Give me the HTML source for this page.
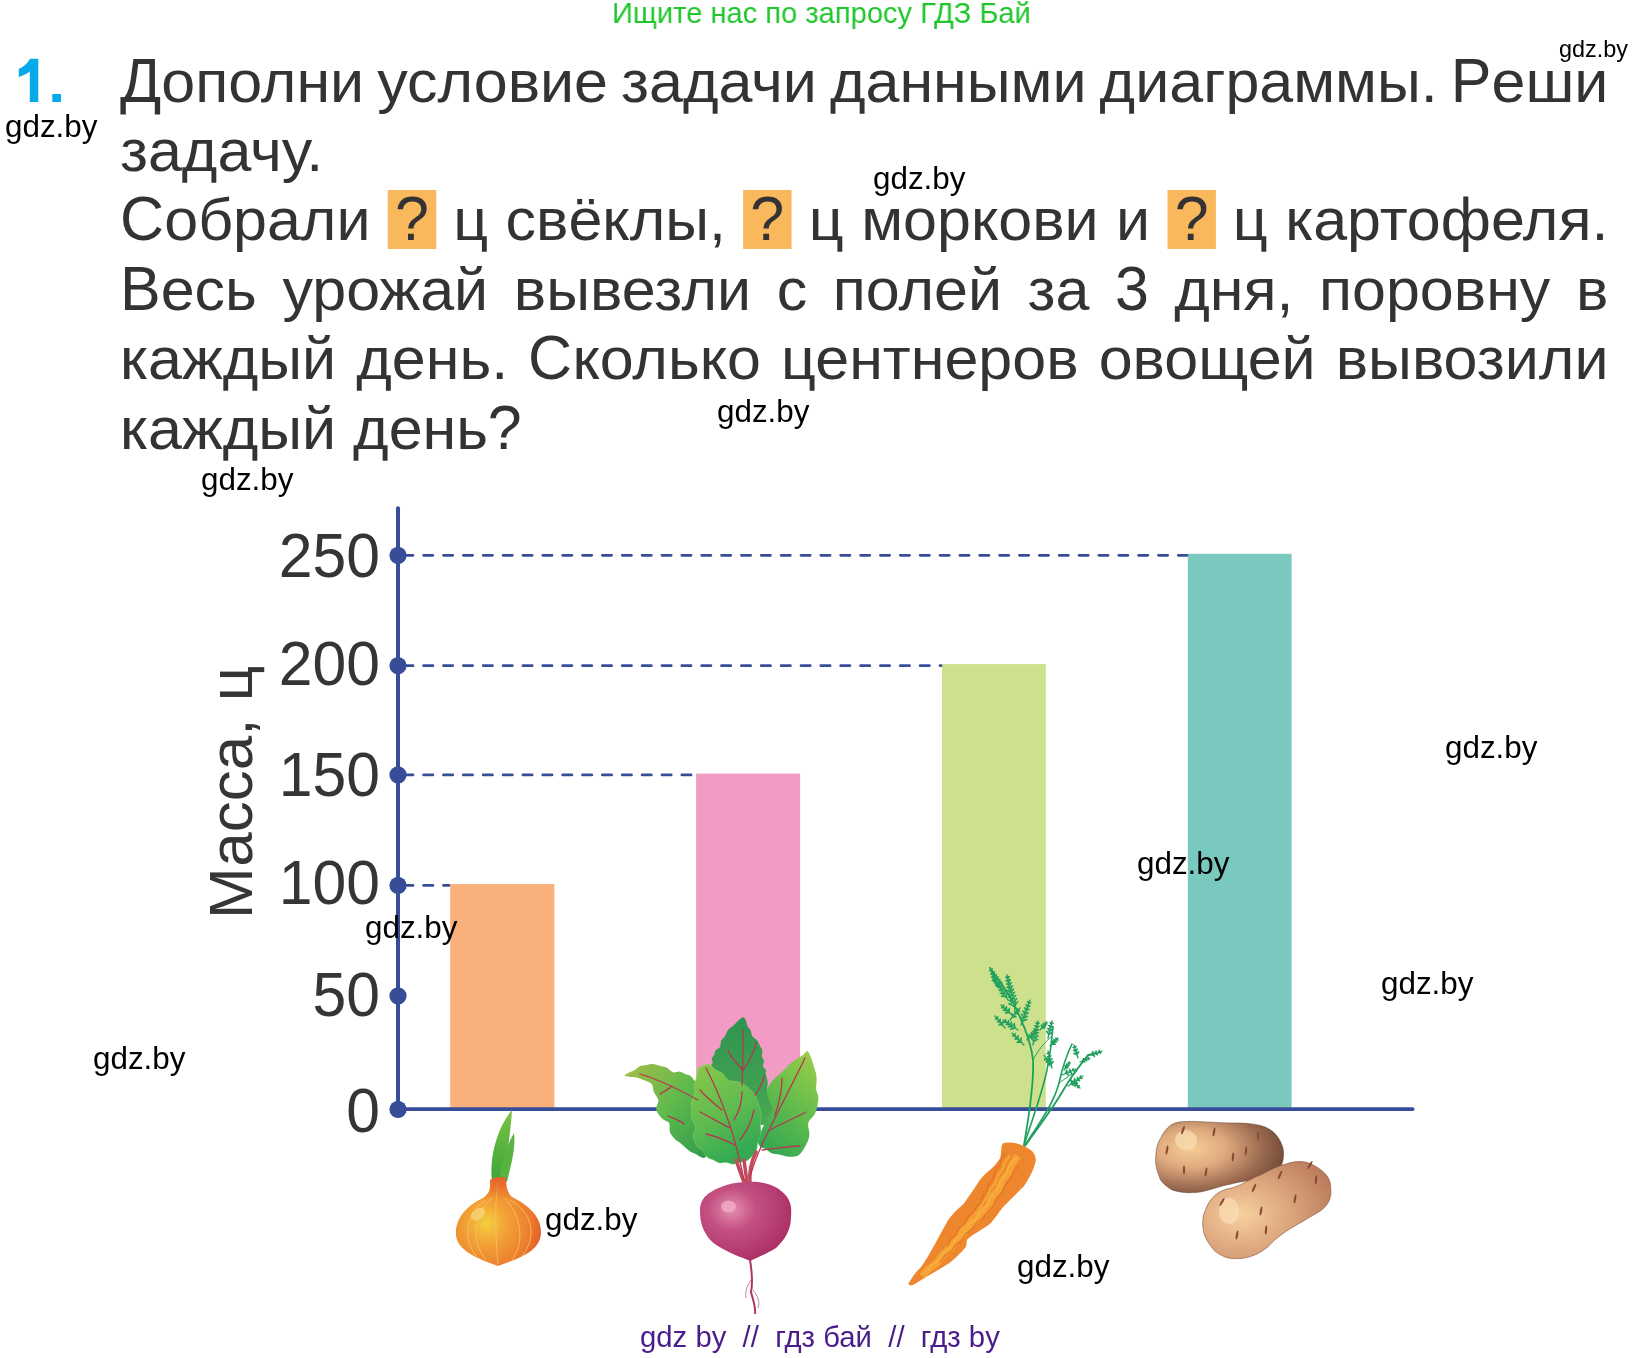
<!DOCTYPE html>
<html><head><meta charset="utf-8">
<style>
html,body{margin:0;padding:0;background:#fff;}
body{width:1646px;height:1358px;position:relative;overflow:hidden;font-family:"Liberation Sans",sans-serif;}
.a{position:absolute;white-space:nowrap;will-change:transform;}
.ln{position:absolute;left:119.5px;width:1445.1px;font-size:59.2px;line-height:69px;color:#343234;white-space:nowrap;transform-origin:0 0;transform:scaleX(1.03);align-items:flex-start;}
.C{display:inline-block;font-size:1.0557em;line-height:0;transform-origin:0 100%;transform:scaleX(0.947);margin-right:-2.2px;}
.fx{display:flex;justify-content:space-between;}
.q{display:inline-block;position:relative;top:4.1px;background:#f9b85c;width:46.6px;height:59px;line-height:59px;text-align:center;vertical-align:top;}
.wm{position:absolute;will-change:transform;font-size:31.4px;line-height:31px;color:#000;white-space:nowrap;}
.yl{position:absolute;left:180px;width:200px;font-size:63.5px;line-height:63.5px;color:#353535;text-align:right;transform-origin:100% 0;transform:scaleX(0.955);}
</style></head>
<body>
<div class="a" style="left:612px;top:-1.8px;font-size:30px;line-height:30px;color:#1fc62c;transform-origin:0 0;transform:scaleX(0.97);">Ищите нас по запросу ГДЗ Бай</div>
<svg width="70" height="110" style="position:absolute;left:0;top:0;"><path d="M18.8,69.1 C24,66.5 28,63 30,58.8 L38.3,58.8 L38.3,101.9 L29.8,101.9 L29.8,71.4 C26.5,74 22.5,75.8 18.8,76.9 Z M52.3,94 L61,94 L61,101.9 L52.3,101.9 Z" fill="#06a9ea"/></svg>

<div class="ln fx" style="top:46.75px;"><span><span class="C">Д</span>ополни</span><span>условие</span><span>задачи</span><span>данными</span><span>диаграммы.</span><span><span class="C">Р</span>еши</span></div>
<div class="ln" style="top:116.10px;"><span>задачу.</span></div>
<div class="ln fx" style="top:185.45px;"><span><span class="C">С</span>обрали</span><span class="q"><span class="C">?</span></span><span>ц</span><span>свёклы,</span><span class="q"><span class="C">?</span></span><span>ц</span><span>моркови</span><span>и</span><span class="q"><span class="C">?</span></span><span>ц</span><span>картофеля.</span></div>
<div class="ln fx" style="top:254.80px;"><span><span class="C">В</span>есь</span><span>урожай</span><span>вывезли</span><span>с</span><span>полей</span><span>за</span><span><span class="C">3</span></span><span>дня,</span><span>поровну</span><span>в</span></div>
<div class="ln fx" style="top:324.15px;"><span>каждый</span><span>день.</span><span><span class="C">С</span>колько</span><span>центнеров</span><span>овощей</span><span>вывозили</span></div>
<div class="ln" style="top:393.50px;"><span>каждый</span> <span>день<span class="C">?</span></span></div>

<svg width="1646" height="1358" style="position:absolute;left:0;top:0;">
  <rect x="450.2" y="884.1" width="104.2" height="225" fill="#f9b07b"/>
  <rect x="696.1" y="773.6" width="104" height="335" fill="#f29bc4"/>
  <rect x="941.9" y="664.1" width="103.9" height="445" fill="#cde18d"/>
  <rect x="1187.8" y="553.8" width="103.8" height="555" fill="#79c9be"/>
  <g stroke="#384d98" stroke-width="2.8" stroke-dasharray="9.2 10.66" stroke-linecap="round">
    <line x1="403.8" y1="555.3" x2="1187" y2="555.3"/>
    <line x1="403.8" y1="665.7" x2="941" y2="665.7"/>
    <line x1="403.8" y1="774.9" x2="695" y2="774.9"/>
    <line x1="403.8" y1="885.4" x2="449" y2="885.4"/>
  </g>
  <line x1="398" y1="508.2" x2="398" y2="1109" stroke="#384d98" stroke-width="4" stroke-linecap="round"/>
  <line x1="398" y1="1109.1" x2="1412.7" y2="1109.1" stroke="#384d98" stroke-width="3.8" stroke-linecap="round"/>
  <g fill="#384d98">
    <circle cx="398" cy="555.3" r="8.6"/>
    <circle cx="398" cy="665.7" r="8.6"/>
    <circle cx="398" cy="774.9" r="8.6"/>
    <circle cx="398" cy="885.4" r="8.6"/>
    <circle cx="398" cy="995.9" r="8.6"/>
    <circle cx="398" cy="1109.4" r="8.6"/>
  </g>
<defs>
<radialGradient id="onionG" cx="0.36" cy="0.52" r="0.72">
 <stop offset="0" stop-color="#f5d040"/><stop offset="0.3" stop-color="#f2a536"/><stop offset="0.72" stop-color="#ec7d2d"/><stop offset="1" stop-color="#de4f27"/>
</radialGradient>
<linearGradient id="onionNeck" x1="0" y1="0" x2="0" y2="1">
 <stop offset="0" stop-color="#e5602a" stop-opacity="0.9"/><stop offset="1" stop-color="#e5602a" stop-opacity="0"/>
</linearGradient>
<linearGradient id="onionLeaf" x1="0" y1="0" x2="0" y2="1">
 <stop offset="0" stop-color="#7cc243"/><stop offset="1" stop-color="#3ba53a"/>
</linearGradient>
<radialGradient id="beetG" cx="0.35" cy="0.35" r="0.75">
 <stop offset="0" stop-color="#e58fb0"/><stop offset="0.35" stop-color="#c45083"/><stop offset="1" stop-color="#a82a63"/>
</radialGradient>
<linearGradient id="leafL" x1="0" y1="0" x2="1" y2="1">
 <stop offset="0" stop-color="#a6bd4a"/><stop offset="0.5" stop-color="#5fba4c"/><stop offset="1" stop-color="#2f9a4e"/>
</linearGradient>
<linearGradient id="leafB" x1="0" y1="0" x2="0" y2="1">
 <stop offset="0" stop-color="#2e9450"/><stop offset="1" stop-color="#4aa852"/>
</linearGradient>
<linearGradient id="leafF" x1="0" y1="0" x2="0.4" y2="1">
 <stop offset="0" stop-color="#8cc84a"/><stop offset="0.6" stop-color="#5dbb50"/><stop offset="1" stop-color="#34aa52"/>
</linearGradient>
<linearGradient id="leafR" x1="0.8" y1="0" x2="0.3" y2="1">
 <stop offset="0" stop-color="#98cc48"/><stop offset="0.5" stop-color="#62bc4c"/><stop offset="1" stop-color="#34a852"/>
</linearGradient>
<linearGradient id="carrotG" x1="0" y1="0" x2="1" y2="0.2">
 <stop offset="0" stop-color="#ee8a2c"/><stop offset="0.5" stop-color="#f5a431"/><stop offset="1" stop-color="#e7772a"/>
</linearGradient>
<radialGradient id="potB" cx="0.28" cy="0.38" r="0.9">
 <stop offset="0" stop-color="#f5cd98"/><stop offset="0.3" stop-color="#deaa7e"/><stop offset="0.62" stop-color="#9a6a50"/><stop offset="0.85" stop-color="#6e4634"/><stop offset="1" stop-color="#5e3a2c"/>
</radialGradient>
<radialGradient id="potF" cx="0.3" cy="0.55" r="0.8">
 <stop offset="0" stop-color="#f7d1a0"/><stop offset="0.4" stop-color="#e0ac82"/><stop offset="1" stop-color="#b8785a"/>
</radialGradient>
</defs>
<path d="M492,1181 C489,1158 497,1128 512,1110 C511,1132 505,1160 506,1181 Z" fill="url(#onionLeaf)"/>
<path d="M499,1181 C502,1162 507,1145 514,1133 C516,1150 510,1168 507,1182 Z" fill="#58b33f"/>
<path d="M490,1180 C491,1189 489,1194 483,1198 C466,1206 455,1219 456,1235 C457,1250 476,1258 498,1266 C520,1258 541,1251 541,1232 C541,1216 528,1205 512,1197 C507,1192 506,1186 506,1178 C501,1176 495,1177 490,1180 Z" fill="url(#onionG)"/>
<path d="M498,1182 C494,1210 496,1240 498,1264" fill="none" stroke="#f9c26a" stroke-width="1" opacity="0.8"/>
<path d="M492,1198 C474,1215 470,1240 486,1260" fill="none" stroke="#f9c26a" stroke-width="1" opacity="0.8"/>
<path d="M505,1198 C520,1215 526,1240 512,1260" fill="none" stroke="#f9c26a" stroke-width="1" opacity="0.8"/>
<path d="M486,1200 C466,1212 462,1238 476,1256" fill="none" stroke="#f9c26a" stroke-width="1" opacity="0.8"/>
<path d="M510,1200 C532,1212 538,1236 522,1256" fill="none" stroke="#f9c26a" stroke-width="1" opacity="0.8"/>
<path d="M490,1180 C491,1189 489,1194 483,1198 C490,1200 506,1200 512,1197 C507,1192 506,1186 506,1178 C501,1176 495,1177 490,1180 Z" fill="url(#onionNeck)"/>
<ellipse cx="478" cy="1214" rx="8" ry="5" fill="#fae089" opacity="0.6" transform="rotate(-35 478 1214)"/>
<path d="M624.6,1075.6 C624.1,1074.3 632.5,1071.5 635.0,1070.0 C637.5,1068.5 637.8,1067.1 639.7,1066.3 C641.6,1065.5 644.4,1065.4 646.5,1065.0 C648.6,1064.6 650.3,1063.9 652.6,1064.1 C654.8,1064.2 657.7,1065.4 660.0,1066.0 C662.3,1066.6 664.2,1066.5 666.4,1067.6 C668.5,1068.6 670.8,1071.6 673.0,1072.3 C675.2,1073.0 677.5,1071.4 679.5,1071.6 C681.5,1071.9 683.1,1073.3 685.0,1074.0 C686.9,1074.7 689.1,1074.9 690.7,1076.0 C692.2,1077.0 692.9,1078.9 694.2,1080.3 C695.5,1081.7 697.6,1082.8 698.5,1084.4 C699.5,1086.0 699.1,1084.1 700.0,1090.0 C700.9,1095.9 703.0,1109.0 704.0,1120.0 C705.0,1131.0 707.8,1150.3 706.2,1155.8 C704.6,1161.3 697.3,1154.3 694.2,1153.2 C691.1,1152.1 689.9,1151.2 687.5,1149.4 C685.1,1147.6 681.7,1144.2 679.7,1142.6 C677.7,1141.0 676.8,1141.1 675.3,1139.5 C673.7,1138.0 671.3,1135.0 670.4,1133.3 C669.5,1131.6 670.0,1131.4 669.7,1129.6 C669.5,1127.8 670.2,1124.5 669.0,1122.7 C667.8,1120.9 664.5,1120.7 662.5,1118.9 C660.5,1117.1 658.1,1114.1 657.1,1112.1 C656.1,1110.1 656.1,1108.9 656.4,1106.9 C656.6,1104.9 658.8,1102.8 658.4,1100.2 C658.0,1097.6 654.8,1094.1 653.7,1091.4 C652.6,1088.8 653.5,1086.1 651.8,1084.2 C650.1,1082.3 645.9,1081.2 643.6,1080.1 C641.3,1079.1 641.2,1078.8 638.0,1078.0 C634.8,1077.2 625.1,1076.9 624.6,1075.6 Z" fill="url(#leafL)"/>
<path d="M743.3,1017.3 C745.8,1017.5 746.8,1024.9 748.0,1027.0 C749.2,1029.1 749.8,1028.6 750.5,1030.2 C751.3,1031.7 751.5,1034.8 752.6,1036.5 C753.7,1038.2 755.9,1038.6 757.2,1040.3 C758.5,1042.1 759.6,1045.4 760.5,1047.1 C761.4,1048.8 762.2,1049.1 762.4,1050.7 C762.6,1052.2 761.6,1054.7 761.9,1056.4 C762.2,1058.1 763.8,1059.2 764.0,1060.8 C764.2,1062.4 762.7,1064.4 763.0,1066.0 C763.3,1067.6 765.5,1068.9 766.0,1070.1 C766.4,1071.4 765.5,1071.5 765.8,1073.6 C766.1,1075.7 767.5,1079.9 767.8,1082.5 C768.0,1085.2 766.6,1087.0 767.2,1089.5 C767.8,1092.0 770.4,1095.2 771.5,1097.4 C772.6,1099.6 773.4,1100.0 773.8,1102.8 C774.2,1105.6 774.2,1110.8 774.0,1114.1 C773.7,1117.4 774.8,1120.9 772.5,1122.7 C770.2,1124.5 766.2,1124.6 760.0,1125.0 C753.8,1125.4 742.8,1134.2 735.0,1125.0 C727.2,1115.8 716.7,1080.3 713.0,1070.0 C709.3,1059.7 713.0,1064.9 712.8,1063.0 C712.6,1061.1 711.7,1060.0 711.9,1058.7 C712.1,1057.3 713.5,1056.4 714.1,1055.0 C714.7,1053.6 714.6,1051.6 715.6,1050.3 C716.6,1048.9 719.1,1048.6 720.0,1047.0 C720.9,1045.4 720.5,1042.3 721.2,1040.6 C722.0,1038.8 723.5,1038.3 724.7,1036.5 C725.9,1034.7 726.8,1031.6 728.2,1029.8 C729.5,1028.1 730.5,1028.1 733.0,1026.0 C735.5,1023.9 740.8,1017.1 743.3,1017.3 Z" fill="url(#leafB)"/>
<path d="M808.3,1051.8 C810.3,1054.2 813.5,1065.3 814.9,1069.7 C816.3,1074.1 816.4,1075.1 816.6,1078.4 C816.8,1081.7 815.9,1086.4 816.2,1089.5 C816.5,1092.6 818.1,1094.2 818.3,1096.9 C818.5,1099.5 818.1,1102.6 817.5,1105.5 C816.9,1108.4 816.0,1111.6 814.5,1114.5 C812.9,1117.3 809.2,1119.7 808.3,1122.7 C807.4,1125.7 809.3,1129.7 809.3,1132.6 C809.3,1135.4 809.3,1137.1 808.3,1139.9 C807.3,1142.7 805.2,1146.7 803.4,1149.4 C801.6,1152.0 800.1,1154.6 797.6,1155.8 C795.1,1157.0 791.3,1157.0 788.3,1156.7 C785.2,1156.5 781.8,1155.1 779.1,1154.5 C776.4,1153.9 774.0,1154.2 771.8,1153.3 C769.6,1152.4 767.6,1150.2 765.8,1149.2 C764.0,1148.2 762.2,1148.3 760.9,1147.2 C759.5,1146.1 758.2,1144.5 757.9,1142.6 C757.6,1140.7 758.4,1138.3 759.3,1135.7 C760.2,1133.0 762.0,1129.5 763.2,1126.7 C764.4,1123.9 764.8,1121.5 766.4,1118.6 C767.9,1115.8 772.2,1112.7 772.5,1109.4 C772.8,1106.1 769.3,1102.1 768.4,1098.8 C767.5,1095.5 766.3,1092.7 767.2,1089.5 C768.1,1086.3 771.2,1082.4 773.6,1079.5 C776.1,1076.7 778.6,1075.2 781.7,1072.3 C784.8,1069.4 788.9,1064.9 792.4,1062.1 C796.0,1059.2 800.4,1056.7 803.0,1055.0 C805.6,1053.3 806.3,1049.3 808.3,1051.8 Z" fill="url(#leafR)"/>
<path d="M698.2,1068.3 C699.8,1066.3 704.1,1064.9 706.2,1064.4 C708.3,1063.9 709.1,1064.5 710.7,1065.4 C712.4,1066.4 714.1,1068.7 716.0,1070.0 C717.9,1071.3 720.3,1071.6 722.4,1073.4 C724.5,1075.1 726.0,1078.9 728.7,1080.3 C731.4,1081.7 735.7,1080.9 738.8,1082.0 C741.9,1083.1 744.8,1084.9 747.3,1086.9 C749.8,1088.9 752.3,1091.2 754.1,1093.9 C755.9,1096.5 756.8,1099.6 757.9,1102.8 C759.0,1106.0 760.6,1109.8 761.0,1113.3 C761.4,1116.8 760.5,1120.5 760.5,1124.0 C760.5,1127.5 761.3,1131.0 760.8,1134.1 C760.4,1137.2 758.6,1139.9 757.9,1142.6 C757.2,1145.3 757.4,1148.3 756.5,1150.5 C755.6,1152.7 754.2,1154.1 752.6,1155.8 C751.0,1157.5 749.1,1159.6 746.8,1160.7 C744.6,1161.8 741.6,1161.9 739.3,1162.5 C737.0,1163.1 735.3,1164.2 733.1,1164.2 C730.9,1164.2 728.3,1162.7 726.0,1162.5 C723.7,1162.3 721.5,1163.4 719.3,1162.9 C717.1,1162.5 714.9,1160.8 712.8,1159.8 C710.7,1158.8 708.7,1158.4 706.9,1156.9 C705.2,1155.3 703.8,1152.2 702.2,1150.5 C700.6,1148.8 698.4,1148.4 697.1,1146.6 C695.8,1144.9 694.8,1142.0 694.2,1139.9 C693.6,1137.8 693.2,1136.5 693.4,1134.3 C693.6,1132.1 695.9,1129.3 695.6,1126.7 C695.3,1124.1 692.5,1121.6 691.8,1119.0 C691.1,1116.3 691.7,1113.6 691.6,1110.8 C691.5,1108.0 690.8,1104.7 691.3,1102.1 C691.7,1099.4 693.7,1097.8 694.2,1094.8 C694.7,1091.8 693.9,1087.3 694.4,1084.2 C694.8,1081.1 696.3,1078.9 696.9,1076.3 C697.5,1073.7 696.7,1070.3 698.2,1068.3 Z" fill="url(#leafF)" stroke="#a8d870" stroke-width="0.6" stroke-opacity="0.6"/>
<g fill="none" stroke="#c24a5e" stroke-linecap="round">
<path d="M736,1160 C739,1168 741,1175 744,1182" stroke-width="3.5"/>
<path d="M744,1160 C745,1168 746,1175 747,1182" stroke-width="3.5"/>
<path d="M756,1152 C751,1162 749,1172 750,1182" stroke-width="3.5"/>
</g>
<g fill="none" stroke="#b8354e" stroke-width="1.3" stroke-linecap="round">
<path d="M744,1180 C738,1150 728,1110 706,1068"/>
<path d="M722,1110 C712,1102 705,1096 700,1090"/>
<path d="M730,1128 C718,1122 708,1116 700,1112"/>
<path d="M735,1145 C725,1140 715,1136 706,1134"/>
<path d="M734,1120 C740,1110 742,1100 742,1092"/>
<path d="M740,1140 C748,1130 752,1120 754,1110"/>
<path d="M750,1178 C756,1150 780,1110 805,1058"/>
<path d="M770,1130 C785,1122 795,1118 806,1112"/>
<path d="M762,1150 C780,1148 792,1146 800,1146"/>
<path d="M775,1115 C780,1100 782,1090 782,1078"/>
<path d="M698,1100 C680,1090 660,1080 640,1074"/>
<path d="M672,1086 C668,1090 663,1092 660,1094"/>
<path d="M684,1124 C680,1120 672,1118 668,1116"/>
<path d="M742,1085 C743,1065 743,1045 743,1030"/>
<path d="M743,1070 C735,1062 730,1055 728,1050"/>
<path d="M743,1070 C750,1060 755,1050 756,1042"/>
<path d="M755,1095 C760,1088 763,1082 764,1076"/>
</g>
<path d="M746.7,1182 C762,1181 774,1185 780,1190 C788,1196 791.5,1203 791.2,1211 C791,1219 791,1224 789,1229 C786,1238 780,1244 776,1248 C766,1254 757,1258 750,1261 C744,1258 734,1255 727,1251 C716,1246 709,1240 706,1234 C701,1226 700,1218 700,1210 C700,1202 704,1196 711,1192 C720,1186 734,1182 746.7,1182 Z" fill="url(#beetG)"/>
<ellipse cx="728.5" cy="1206.5" rx="7.5" ry="6" fill="#f2a9c6" opacity="0.85"/>
<path d="M750,1260 C752,1272 753,1282 751,1292 C753,1300 756,1307 755,1314" fill="none" stroke="#b0366a" stroke-width="2"/>
<path d="M751,1280 C747,1286 745,1292 746,1298 M753,1290 C758,1296 760,1302 758,1308" fill="none" stroke="#c06088" stroke-width="0.8"/>
<g fill="none" stroke="#1fa15e" stroke-linecap="round">
<path d="M1024,1145 C1030,1110 1034,1080 1033,1060 C1031,1040 1022,1020 1012,1000 C1005,988 998,978 990,968" stroke-width="1.8"/>
<path d="M1024,1145 C1034,1115 1043,1090 1047,1070 C1050,1055 1052,1040 1053,1027" stroke-width="1.6"/>
<path d="M1025,1145 C1042,1120 1055,1100 1059,1083 C1063,1065 1068,1052 1072,1044" stroke-width="1.6"/>
<path d="M1025,1146 C1040,1125 1055,1105 1064,1089 C1072,1075 1082,1063 1088,1055 C1093,1054 1097,1053 1101,1052" stroke-width="1.8"/>
<path d="M1033,1060 C1038,1050 1045,1042 1052,1036" stroke-width="1"/>
<path d="M1059,1083 C1066,1078 1072,1074 1077,1071" stroke-width="1"/>
</g>
<path d="M1002.0,990.0 L990.0,968.0 M1000.3,986.9 L1002.0,982.2 M1001.2,984.5 L1000.3,983.0 M1000.3,986.9 L995.4,985.8 M997.9,986.3 L997.0,984.8 M998.6,983.7 L1000.1,979.6 M999.3,981.6 L998.6,980.3 M998.6,983.7 L994.2,982.8 M996.4,983.2 L995.7,981.9 M996.9,980.6 L998.2,976.9 M997.5,978.7 L996.9,977.5 M996.9,980.6 L993.0,979.7 M994.9,980.2 L994.3,978.9 M995.1,977.4 L996.3,974.3 M995.7,975.8 L995.2,974.8 M995.1,977.4 L991.8,976.7 M993.5,977.1 L992.9,976.0 M993.4,974.3 L994.4,971.6 M993.9,972.9 L993.4,972.1 M993.4,974.3 L990.6,973.7 M992.0,974.0 L991.5,973.1 M991.7,971.1 L992.5,968.9 M992.1,970.0 L991.7,969.3 M991.7,971.1 L989.4,970.6 M990.6,970.9 L990.2,970.2" fill="none" stroke="#21a05e" stroke-width="1.3" stroke-linecap="round"/>
<path d="M1008.0,1000.0 L997.0,982.0 M1006.2,997.0 L1007.6,992.4 M1006.9,994.7 L1006.0,993.2 M1006.2,997.0 L1001.4,996.2 M1003.8,996.6 L1002.9,995.1 M1004.3,994.0 L1005.6,989.9 M1005.0,992.0 L1004.2,990.7 M1004.3,994.0 L1000.1,993.3 M1002.2,993.6 L1001.5,992.4 M1002.5,991.0 L1003.6,987.5 M1003.1,989.3 L1002.4,988.2 M1002.5,991.0 L998.9,990.4 M1000.7,990.7 L1000.0,989.6 M1000.7,988.0 L1001.6,985.1 M1001.1,986.6 L1000.6,985.6 M1000.7,988.0 L997.7,987.5 M999.2,987.7 L998.6,986.8 M998.8,985.0 L999.6,982.7 M999.2,983.8 L998.8,983.1 M998.8,985.0 L996.4,984.6 M997.6,984.8 L997.2,984.1" fill="none" stroke="#21a05e" stroke-width="1.3" stroke-linecap="round"/>
<path d="M1015.0,1010.0 L1007.0,975.0 M1014.2,1006.5 L1017.8,1001.6 M1016.0,1004.0 L1015.5,1001.9 M1014.2,1006.5 L1008.8,1003.6 M1011.5,1005.1 L1011.0,1003.0 M1013.4,1003.0 L1016.8,998.4 M1015.1,1000.7 L1014.6,998.7 M1013.4,1003.0 L1008.4,1000.3 M1010.9,1001.7 L1010.4,999.7 M1012.6,999.5 L1015.7,995.3 M1014.2,997.4 L1013.7,995.6 M1012.6,999.5 L1008.0,997.0 M1010.3,998.3 L1009.9,996.5 M1011.8,996.0 L1014.6,992.1 M1013.2,994.1 L1012.8,992.4 M1011.8,996.0 L1007.6,993.7 M1009.7,994.9 L1009.3,993.2 M1011.0,992.5 L1013.6,989.0 M1012.3,990.7 L1011.9,989.2 M1011.0,992.5 L1007.1,990.4 M1009.1,991.5 L1008.7,990.0 M1010.2,989.0 L1012.5,985.8 M1011.4,987.4 L1011.1,986.1 M1010.2,989.0 L1006.7,987.1 M1008.5,988.1 L1008.2,986.7 M1009.4,985.5 L1011.5,982.7 M1010.4,984.1 L1010.2,982.9 M1009.4,985.5 L1006.3,983.9 M1007.9,984.7 L1007.6,983.5 M1008.6,982.0 L1010.4,979.5 M1009.5,980.8 L1009.3,979.7 M1008.6,982.0 L1005.9,980.6 M1007.2,981.3 L1007.0,980.2 M1007.8,978.5 L1009.4,976.4 M1008.6,977.4 L1008.4,976.5 M1007.8,978.5 L1005.5,977.3 M1006.6,977.9 L1006.4,977.0" fill="none" stroke="#21a05e" stroke-width="1.3" stroke-linecap="round"/>
<path d="M1021.0,1025.0 L1030.0,1000.0 M1022.3,1021.4 L1026.9,1019.6 M1024.6,1020.5 L1025.2,1018.9 M1022.3,1021.4 L1019.9,1017.1 M1021.1,1019.3 L1021.7,1017.6 M1023.6,1017.9 L1027.7,1016.3 M1025.6,1017.1 L1026.2,1015.6 M1023.6,1017.9 L1021.4,1014.0 M1022.5,1015.9 L1023.0,1014.5 M1024.9,1014.3 L1028.5,1012.9 M1026.7,1013.6 L1027.1,1012.3 M1024.9,1014.3 L1022.9,1010.9 M1023.9,1012.6 L1024.4,1011.3 M1026.1,1010.7 L1029.3,1009.5 M1027.7,1010.1 L1028.1,1009.0 M1026.1,1010.7 L1024.5,1007.8 M1025.3,1009.2 L1025.7,1008.1 M1027.4,1007.1 L1030.1,1006.1 M1028.8,1006.6 L1029.1,1005.7 M1027.4,1007.1 L1026.0,1004.6 M1026.7,1005.9 L1027.1,1004.9 M1028.7,1003.6 L1030.9,1002.7 M1029.8,1003.1 L1030.1,1002.4 M1028.7,1003.6 L1027.6,1001.5 M1028.1,1002.5 L1028.4,1001.8" fill="none" stroke="#21a05e" stroke-width="1.3" stroke-linecap="round"/>
<path d="M1012.0,1015.0 L1001.0,1005.0 M1009.2,1012.5 L1009.3,1008.4 M1009.3,1010.4 L1008.2,1009.5 M1009.2,1012.5 L1005.2,1013.0 M1007.2,1012.7 L1006.1,1011.8 M1006.5,1010.0 L1006.6,1006.7 M1006.5,1008.4 L1005.7,1007.6 M1006.5,1010.0 L1003.2,1010.4 M1004.9,1010.2 L1004.0,1009.4 M1003.8,1007.5 L1003.8,1005.0 M1003.8,1006.3 L1003.1,1005.7 M1003.8,1007.5 L1001.3,1007.8 M1002.5,1007.6 L1001.9,1007.1" fill="none" stroke="#21a05e" stroke-width="1.3" stroke-linecap="round"/>
<path d="M1018.0,1030.0 L1003.0,1020.0 M1015.0,1028.0 L1014.4,1023.3 M1014.7,1025.6 L1013.3,1024.7 M1015.0,1028.0 L1010.4,1029.3 M1012.7,1028.6 L1011.3,1027.7 M1012.0,1026.0 L1011.5,1022.0 M1011.7,1024.0 L1010.6,1023.2 M1012.0,1026.0 L1008.1,1027.1 M1010.1,1026.5 L1008.9,1025.7 M1009.0,1024.0 L1008.6,1020.7 M1008.8,1022.4 L1007.8,1021.7 M1009.0,1024.0 L1005.8,1024.9 M1007.4,1024.4 L1006.5,1023.8 M1006.0,1022.0 L1005.7,1019.5 M1005.8,1020.7 L1005.1,1020.2 M1006.0,1022.0 L1003.5,1022.7 M1004.8,1022.3 L1004.0,1021.8" fill="none" stroke="#21a05e" stroke-width="1.3" stroke-linecap="round"/>
<path d="M1024.0,1045.0 L1012.0,1033.0 M1021.0,1042.0 L1021.3,1037.9 M1021.1,1040.0 L1020.1,1038.9 M1021.0,1042.0 L1016.9,1042.3 M1019.0,1042.1 L1017.9,1041.1 M1018.0,1039.0 L1018.2,1035.7 M1018.1,1037.4 L1017.3,1036.5 M1018.0,1039.0 L1014.7,1039.2 M1016.4,1039.1 L1015.5,1038.3 M1015.0,1036.0 L1015.2,1033.5 M1015.1,1034.8 L1014.5,1034.2 M1015.0,1036.0 L1012.5,1036.2 M1013.8,1036.1 L1013.2,1035.5" fill="none" stroke="#21a05e" stroke-width="1.3" stroke-linecap="round"/>
<path d="M1033.0,1045.0 L1038.0,1021.0 M1033.7,1041.6 L1038.0,1039.2 M1035.9,1040.4 L1036.2,1038.7 M1033.7,1041.6 L1030.7,1037.6 M1032.2,1039.6 L1032.6,1037.9 M1034.4,1038.1 L1038.3,1036.0 M1036.4,1037.1 L1036.7,1035.5 M1034.4,1038.1 L1031.7,1034.6 M1033.1,1036.4 L1033.4,1034.9 M1035.1,1034.7 L1038.6,1032.8 M1036.8,1033.8 L1037.1,1032.4 M1035.1,1034.7 L1032.8,1031.6 M1034.0,1033.2 L1034.2,1031.8 M1035.9,1031.3 L1038.8,1029.6 M1037.3,1030.5 L1037.6,1029.3 M1035.9,1031.3 L1033.8,1028.6 M1034.8,1029.9 L1035.1,1028.8 M1036.6,1027.9 L1039.1,1026.5 M1037.8,1027.2 L1038.0,1026.2 M1036.6,1027.9 L1034.8,1025.6 M1035.7,1026.7 L1035.9,1025.7 M1037.3,1024.4 L1039.3,1023.3 M1038.3,1023.9 L1038.5,1023.0 M1037.3,1024.4 L1035.9,1022.6 M1036.6,1023.5 L1036.7,1022.7" fill="none" stroke="#21a05e" stroke-width="1.3" stroke-linecap="round"/>
<path d="M1048.0,1038.0 L1052.0,1021.0 M1048.8,1034.6 L1052.6,1032.6 M1050.7,1033.6 L1051.0,1032.1 M1048.8,1034.6 L1046.3,1031.1 M1047.6,1032.9 L1047.9,1031.4 M1049.6,1031.2 L1052.8,1029.5 M1051.2,1030.4 L1051.5,1029.1 M1049.6,1031.2 L1047.5,1028.3 M1048.5,1029.7 L1048.8,1028.5 M1050.4,1027.8 L1053.0,1026.4 M1051.7,1027.1 L1051.9,1026.1 M1050.4,1027.8 L1048.7,1025.4 M1049.5,1026.6 L1049.8,1025.6 M1051.2,1024.4 L1053.2,1023.3 M1052.2,1023.9 L1052.4,1023.1 M1051.2,1024.4 L1049.9,1022.5 M1050.5,1023.5 L1050.7,1022.7" fill="none" stroke="#21a05e" stroke-width="1.3" stroke-linecap="round"/>
<path d="M1050.0,1046.0 L1058.0,1038.0 M1052.0,1044.0 L1055.6,1044.3 M1053.8,1044.1 L1054.7,1043.2 M1052.0,1044.0 L1051.7,1040.4 M1051.9,1042.2 L1052.8,1041.3 M1054.0,1042.0 L1056.9,1042.2 M1055.5,1042.1 L1056.2,1041.4 M1054.0,1042.0 L1053.8,1039.1 M1053.9,1040.5 L1054.6,1039.8 M1056.0,1040.0 L1058.2,1040.2 M1057.1,1040.1 L1057.6,1039.5 M1056.0,1040.0 L1055.8,1037.8 M1055.9,1038.9 L1056.5,1038.4" fill="none" stroke="#21a05e" stroke-width="1.3" stroke-linecap="round"/>
<path d="M1052.0,1068.0 L1048.0,1051.0 M1051.2,1064.6 L1053.4,1061.5 M1052.3,1063.1 L1052.0,1061.8 M1051.2,1064.6 L1047.8,1062.8 M1049.5,1063.7 L1049.2,1062.4 M1050.4,1061.2 L1052.3,1058.6 M1051.3,1059.9 L1051.1,1058.8 M1050.4,1061.2 L1047.6,1059.7 M1049.0,1060.5 L1048.7,1059.4 M1049.6,1057.8 L1051.1,1055.7 M1050.4,1056.7 L1050.2,1055.8 M1049.6,1057.8 L1047.3,1056.6 M1048.4,1057.2 L1048.2,1056.3 M1048.8,1054.4 L1050.0,1052.7 M1049.4,1053.6 L1049.2,1052.9 M1048.8,1054.4 L1047.0,1053.5 M1047.9,1053.9 L1047.7,1053.2" fill="none" stroke="#21a05e" stroke-width="1.3" stroke-linecap="round"/>
<path d="M1062.0,1075.0 L1076.0,1069.0 M1065.5,1073.5 L1068.8,1075.1 M1067.1,1074.3 L1068.3,1073.8 M1065.5,1073.5 L1066.6,1070.0 M1066.1,1071.8 L1067.2,1071.3 M1069.0,1072.0 L1071.6,1073.3 M1070.3,1072.6 L1071.3,1072.2 M1069.0,1072.0 L1069.9,1069.2 M1069.4,1070.6 L1070.4,1070.2 M1072.5,1070.5 L1074.5,1071.5 M1073.5,1071.0 L1074.2,1070.7 M1072.5,1070.5 L1073.2,1068.4 M1072.8,1069.5 L1073.5,1069.2" fill="none" stroke="#21a05e" stroke-width="1.3" stroke-linecap="round"/>
<path d="M1078.0,1058.0 L1074.0,1045.0 M1077.0,1054.8 L1078.9,1051.7 M1078.0,1053.2 L1077.6,1052.0 M1077.0,1054.8 L1073.7,1053.3 M1075.3,1054.0 L1075.0,1052.8 M1076.0,1051.5 L1077.5,1049.0 M1076.8,1050.3 L1076.5,1049.3 M1076.0,1051.5 L1073.3,1050.3 M1074.7,1050.9 L1074.4,1049.9 M1075.0,1048.2 L1076.2,1046.4 M1075.6,1047.3 L1075.4,1046.6 M1075.0,1048.2 L1073.0,1047.4 M1074.0,1047.8 L1073.8,1047.1" fill="none" stroke="#21a05e" stroke-width="1.3" stroke-linecap="round"/>
<path d="M1088.0,1056.0 L1102.0,1051.0 M1091.5,1054.8 L1094.7,1056.5 M1093.1,1055.6 L1094.3,1055.2 M1091.5,1054.8 L1092.8,1051.4 M1092.2,1053.1 L1093.4,1052.6 M1095.0,1053.5 L1097.5,1054.9 M1096.3,1054.2 L1097.2,1053.9 M1095.0,1053.5 L1096.1,1050.8 M1095.5,1052.1 L1096.5,1051.8 M1098.5,1052.2 L1100.4,1053.3 M1099.5,1052.8 L1100.2,1052.5 M1098.5,1052.2 L1099.3,1050.2 M1098.9,1051.2 L1099.6,1051.0" fill="none" stroke="#21a05e" stroke-width="1.3" stroke-linecap="round"/>
<path d="M1068.0,1086.0 L1083.0,1076.0 M1071.0,1084.0 L1075.1,1085.1 M1073.1,1084.6 L1074.3,1083.7 M1071.0,1084.0 L1071.5,1079.8 M1071.3,1081.9 L1072.5,1081.0 M1074.0,1082.0 L1077.5,1083.0 M1075.7,1082.5 L1076.8,1081.8 M1074.0,1082.0 L1074.5,1078.4 M1074.2,1080.2 L1075.3,1079.5 M1077.0,1080.0 L1079.8,1080.8 M1078.4,1080.4 L1079.3,1079.8 M1077.0,1080.0 L1077.4,1077.1 M1077.2,1078.5 L1078.1,1078.0 M1080.0,1078.0 L1082.2,1078.6 M1081.1,1078.3 L1081.8,1077.9 M1080.0,1078.0 L1080.3,1075.7 M1080.1,1076.9 L1080.8,1076.4" fill="none" stroke="#21a05e" stroke-width="1.3" stroke-linecap="round"/>
<path d="M1070.0,1080.0 L1080.0,1088.0 M1072.5,1082.0 L1072.6,1085.2 M1072.6,1083.6 L1073.4,1084.3 M1072.5,1082.0 L1075.6,1081.4 M1074.1,1081.7 L1074.9,1082.4 M1075.0,1084.0 L1075.1,1086.6 M1075.1,1085.3 L1075.8,1085.8 M1075.0,1084.0 L1077.5,1083.5 M1076.3,1083.8 L1077.0,1084.3 M1077.5,1086.0 L1077.6,1087.9 M1077.5,1087.0 L1078.1,1087.4 M1077.5,1086.0 L1079.4,1085.7 M1078.4,1085.8 L1079.0,1086.2" fill="none" stroke="#21a05e" stroke-width="1.3" stroke-linecap="round"/>
<path d="M996.0,985.0 L992.0,972.0 M995.0,981.8 L996.7,979.0 M995.8,980.4 L995.5,979.3 M995.0,981.8 L992.1,980.5 M993.5,981.1 L993.2,980.0 M994.0,978.5 L995.4,976.3 M994.7,977.4 L994.4,976.6 M994.0,978.5 L991.7,977.5 M992.8,978.0 L992.6,977.1 M993.0,975.2 L994.0,973.6 M993.5,974.4 L993.3,973.8 M993.0,975.2 L991.2,974.5 M992.1,974.9 L991.9,974.2" fill="none" stroke="#21a05e" stroke-width="1.3" stroke-linecap="round"/>
<path d="M1010.0,1020.0 L1020.0,1008.0 M1012.5,1017.0 L1016.1,1016.9 M1014.3,1017.0 L1015.1,1016.0 M1012.5,1017.0 L1011.9,1013.4 M1012.2,1015.2 L1013.0,1014.2 M1015.0,1014.0 L1017.9,1013.9 M1016.5,1014.0 L1017.1,1013.2 M1015.0,1014.0 L1014.5,1011.1 M1014.8,1012.6 L1015.4,1011.8 M1017.5,1011.0 L1019.7,1011.0 M1018.6,1011.0 L1019.1,1010.4 M1017.5,1011.0 L1017.1,1008.8 M1017.3,1009.9 L1017.8,1009.3" fill="none" stroke="#21a05e" stroke-width="1.3" stroke-linecap="round"/>
<path d="M1005.0,1028.0 L995.0,1016.0 M1002.5,1025.0 L1003.1,1021.4 M1002.8,1023.2 L1002.0,1022.2 M1002.5,1025.0 L998.9,1024.9 M1000.7,1025.0 L999.9,1024.0 M1000.0,1022.0 L1000.5,1019.1 M1000.2,1020.6 L999.6,1019.8 M1000.0,1022.0 L997.1,1021.9 M998.5,1022.0 L997.9,1021.2 M997.5,1019.0 L997.9,1016.8 M997.7,1017.9 L997.2,1017.3 M997.5,1019.0 L995.3,1019.0 M996.4,1019.0 L995.9,1018.4" fill="none" stroke="#21a05e" stroke-width="1.3" stroke-linecap="round"/>
<path d="M1027.0,1040.0 L1036.0,1030.0 M1029.2,1037.5 L1032.4,1037.6 M1030.8,1037.5 L1031.6,1036.7 M1029.2,1037.5 L1028.9,1034.3 M1029.1,1035.9 L1029.8,1035.1 M1031.5,1035.0 L1034.1,1035.0 M1032.8,1035.0 L1033.4,1034.4 M1031.5,1035.0 L1031.2,1032.5 M1031.3,1033.7 L1031.9,1033.1 M1033.8,1032.5 L1035.7,1032.5 M1034.7,1032.5 L1035.2,1032.0 M1033.8,1032.5 L1033.5,1030.6 M1033.6,1031.5 L1034.1,1031.0" fill="none" stroke="#21a05e" stroke-width="1.3" stroke-linecap="round"/>
<path d="M1040.0,1030.0 L1047.0,1022.0 M1041.8,1028.0 L1044.9,1028.0 M1043.3,1028.0 L1044.1,1027.2 M1041.8,1028.0 L1041.3,1024.8 M1041.5,1026.4 L1042.3,1025.6 M1043.5,1026.0 L1046.1,1026.0 M1044.8,1026.0 L1045.4,1025.3 M1043.5,1026.0 L1043.1,1023.5 M1043.3,1024.7 L1043.9,1024.1 M1045.2,1024.0 L1047.2,1024.0 M1046.2,1024.0 L1046.7,1023.5 M1045.2,1024.0 L1045.0,1022.1 M1045.1,1023.1 L1045.6,1022.5" fill="none" stroke="#21a05e" stroke-width="1.3" stroke-linecap="round"/>
<path d="M1044.0,1055.0 L1050.0,1066.0 M1045.5,1057.8 L1044.5,1060.3 M1045.0,1059.0 L1045.5,1059.9 M1045.5,1057.8 L1048.2,1058.3 M1046.8,1058.0 L1047.3,1058.9 M1047.0,1060.5 L1046.2,1062.6 M1046.6,1061.5 L1047.0,1062.2 M1047.0,1060.5 L1049.1,1061.0 M1048.1,1060.7 L1048.4,1061.4 M1048.5,1063.2 L1047.9,1064.8 M1048.2,1064.0 L1048.5,1064.5 M1048.5,1063.2 L1050.1,1063.6 M1049.3,1063.4 L1049.6,1063.9" fill="none" stroke="#21a05e" stroke-width="1.3" stroke-linecap="round"/>
<path d="M1064.0,1070.0 L1070.0,1062.0 M1065.5,1068.0 L1068.2,1067.8 M1066.9,1067.9 L1067.4,1067.1 M1065.5,1068.0 L1064.9,1065.3 M1065.2,1066.7 L1065.8,1065.9 M1067.0,1066.0 L1069.2,1065.8 M1068.1,1065.9 L1068.6,1065.3 M1067.0,1066.0 L1066.5,1063.9 M1066.8,1064.9 L1067.2,1064.3 M1068.5,1064.0 L1070.1,1063.9 M1069.3,1063.9 L1069.7,1063.5 M1068.5,1064.0 L1068.2,1062.4 M1068.3,1063.2 L1068.7,1062.7" fill="none" stroke="#21a05e" stroke-width="1.3" stroke-linecap="round"/>
<path d="M1080.0,1062.0 L1090.0,1058.0 M1082.5,1061.0 L1084.9,1062.3 M1083.7,1061.6 L1084.6,1061.3 M1082.5,1061.0 L1083.4,1058.4 M1082.9,1059.7 L1083.8,1059.3 M1085.0,1060.0 L1086.9,1061.0 M1086.0,1060.5 L1086.7,1060.2 M1085.0,1060.0 L1085.7,1057.9 M1085.4,1059.0 L1086.1,1058.7 M1087.5,1059.0 L1089.0,1059.8 M1088.2,1059.4 L1088.8,1059.2 M1087.5,1059.0 L1088.0,1057.4 M1087.8,1058.2 L1088.3,1058.0" fill="none" stroke="#21a05e" stroke-width="1.3" stroke-linecap="round"/>
<path d="M1003.7,1143 C1012,1141 1024,1144 1032,1151 C1036,1155 1036,1160 1035.5,1162 C1033,1172 1028,1180 1023.7,1186.6 C1020,1190 1010,1200 1002.5,1207.8 C999,1212 995,1219 989.5,1224.3 C982,1230 973,1234 967.2,1239.6 C966,1242 967,1245 966,1246.7 C960,1254 955,1258 949.5,1263.1 C942,1268 936,1271 929.5,1274.9 C922,1279 916,1284 910.6,1285.5 C908,1285 908,1283 909.4,1282 C913,1276 916,1272 921,1267 C927,1259 931,1251 935.5,1243 C940,1235 944,1227 948.5,1219.5 C953,1213 959,1208 964,1203.5 C969,1196 974,1189 979.5,1180.5 C982,1177 984,1175 987,1172.5 C993,1168 997,1163 1000.2,1158.3 C1001,1154 1001,1151 1001.3,1148.9 C1001.5,1146 1002,1144 1003.7,1143 Z" fill="#ed862c"/>
<polyline points="1018.2,1156.1 1012.2,1163.7 1008.5,1172.7 1002.4,1180.4 998.6,1189.3 992.4,1196.8 988.6,1205.8 981.1,1212.7 975.6,1220.7 968.0,1226.8 962.7,1234.9 955.3,1241.3 950.0,1249.5 942.2,1255.4 936.5,1263.3 928.6,1269.1 922.0,1276.2" fill="none" stroke="#f6a535" stroke-width="7" stroke-linejoin="round" opacity="0.9"/>
<polyline points="1010.0,1155.3 1005.0,1161.7 1002.5,1169.5 997.5,1175.9 994.9,1183.6 989.8,1189.9 987.1,1197.7 981.9,1204.0 978.4,1210.5 972.1,1215.6 968.0,1222.7 961.7,1228.0 957.7,1235.2 951.7,1240.6 947.7,1247.6 941.3,1252.6 936.9,1259.6" fill="none" stroke="#f5a533" stroke-width="3" stroke-linejoin="round" opacity="0.9"/>
<polyline points="1018.8,1166.2 1013.5,1172.1 1010.6,1179.3 1005.2,1185.2 1002.2,1192.4 996.7,1198.2 993.7,1205.3 987.4,1211.7 983.0,1218.1 976.5,1222.6 972.1,1229.1 965.9,1233.6 961.7,1240.2 955.4,1245.0 950.9,1251.6 944.4,1256.0 939.8,1262.3" fill="none" stroke="#e27526" stroke-width="1.5" stroke-linejoin="round" opacity="0.7"/>
<polyline points="1005.7,1152.9 1001.4,1158.5 999.6,1165.4 995.3,1171.0 993.5,1177.8 989.1,1183.3 987.2,1190.3 982.8,1195.8 980.8,1202.7 976.4,1206.5 973.1,1212.9 967.7,1217.4 964.4,1223.8 959.0,1228.5 955.9,1235.1 950.7,1239.8 947.6,1246.1" fill="none" stroke="#df6d22" stroke-width="1.5" stroke-linejoin="round" opacity="0.7"/>
<polyline points="1015.3,1158.3 1009.5,1165.5 1006.2,1174.1 1000.4,1181.3 996.9,1189.8 991.0,1196.9 987.5,1205.4 980.6,1211.7 975.4,1219.4 968.2,1225.1 963.3,1232.9 956.3,1238.9 951.5,1246.7 944.1,1252.4 938.8,1259.9 931.5,1265.5 925.6,1272.6" fill="none" stroke="#f9b947" stroke-width="1.3" stroke-linejoin="round" opacity="0.7"/>
<path d="M1186.2,1121.5 C1200,1121 1215,1123 1235,1123 C1250,1123 1262,1125 1267.6,1128.2 C1276,1132 1282,1142 1283.4,1150.1 C1284,1158 1283,1166 1276.1,1173.2 C1268,1180 1258,1180 1249.4,1180.5 C1238,1182 1232,1184 1225.1,1185.3 C1212,1189 1204,1192 1194.7,1192.6 C1185,1193 1176,1192 1170.4,1189 C1163,1184 1160,1180 1159.4,1176.8 C1156,1168 1155,1162 1155.8,1156.2 C1156,1148 1158,1142 1160.7,1138 C1164,1131 1168,1127 1171.6,1124.6 C1176,1122 1181,1121.6 1186.2,1121.5 Z" fill="url(#potB)" stroke="#5a3628" stroke-width="0.8" stroke-opacity="0.6"/>
<ellipse cx="1186" cy="1140" rx="11" ry="10" fill="#f8dcb2" opacity="0.75"/>
<path d="M1301.6,1161.6 C1308,1162 1314,1165 1318.6,1168.3 C1324,1172 1328,1176 1329.5,1180.5 C1331,1186 1331,1190 1330.8,1195.1 C1330,1200 1328,1204 1324.7,1207.2 C1320,1212 1315,1214 1310.1,1216.9 C1302,1222 1294,1226 1285.8,1231.5 C1278,1237 1272,1242 1267.6,1247.3 C1260,1253 1252,1257 1243.3,1258.2 C1236,1259 1230,1259 1225.1,1257 C1218,1254 1214,1251 1211.7,1247.3 C1206,1240 1204,1235 1203.2,1229.1 C1202,1222 1203,1215 1205.6,1209.6 C1208,1203 1211,1199 1215.3,1195.1 C1220,1191 1226,1189 1232.3,1187.8 C1242,1185 1252,1178 1261.5,1174.4 C1270,1170 1278,1166 1285.8,1164.1 C1291,1162 1296,1161.5 1301.6,1161.6 Z" fill="url(#potF)" stroke="#8e543e" stroke-width="0.9" stroke-opacity="0.7"/>
<ellipse cx="1229" cy="1211" rx="10" ry="13" fill="#f9dcb5" opacity="0.75"/>
<g fill="#8a4a33">
<ellipse cx="1183" cy="1130" rx="1.1" ry="4.6" transform="rotate(20 1183 1130)"/>
<ellipse cx="1214" cy="1132" rx="1.1" ry="4.6" transform="rotate(10 1214 1132)"/>
<ellipse cx="1167" cy="1150" rx="1.1" ry="4.6" transform="rotate(10 1167 1150)"/>
<ellipse cx="1184" cy="1170" rx="1.1" ry="4.6" transform="rotate(0 1184 1170)"/>
<ellipse cx="1206" cy="1172" rx="1.1" ry="4.6" transform="rotate(10 1206 1172)"/>
<ellipse cx="1233" cy="1157" rx="1.1" ry="4.6" transform="rotate(5 1233 1157)"/>
<ellipse cx="1246" cy="1151" rx="1.1" ry="4.6" transform="rotate(5 1246 1151)"/>
<ellipse cx="1258" cy="1136" rx="1.1" ry="4.6" transform="rotate(0 1258 1136)"/>
<ellipse cx="1222" cy="1202" rx="1.1" ry="4.6" transform="rotate(30 1222 1202)"/>
<ellipse cx="1254" cy="1188" rx="1.1" ry="4.6" transform="rotate(25 1254 1188)"/>
<ellipse cx="1280" cy="1175" rx="1.1" ry="4.6" transform="rotate(25 1280 1175)"/>
<ellipse cx="1295" cy="1199" rx="1.1" ry="4.6" transform="rotate(10 1295 1199)"/>
<ellipse cx="1316" cy="1180" rx="1.1" ry="4.6" transform="rotate(5 1316 1180)"/>
<ellipse cx="1261" cy="1211" rx="1.1" ry="4.6" transform="rotate(10 1261 1211)"/>
<ellipse cx="1237" cy="1235" rx="1.1" ry="4.6" transform="rotate(10 1237 1235)"/>
<ellipse cx="1266" cy="1230" rx="1.1" ry="4.6" transform="rotate(5 1266 1230)"/>
<ellipse cx="1310" cy="1165" rx="1.1" ry="4.6" transform="rotate(30 1310 1165)"/>
</g>
</svg>

<div class="yl" style="top:524.3px;">250</div>
<div class="yl" style="top:632.3px;">200</div>
<div class="yl" style="top:742.7px;">150</div>
<div class="yl" style="top:850.5px;">100</div>
<div class="yl" style="top:963.2px;">50</div>
<div class="yl" style="top:1079px;">0</div>

<div class="a" style="left:199.6px;top:918.9px;font-size:62px;line-height:62px;color:#353535;transform-origin:0 0;transform:rotate(-90deg);">Масса, ц</div>

<div class="wm" style="left:5.4px;top:111.4px;">gdz.by</div>
<div class="wm" style="left:1559px;top:37.8px;font-size:23.4px;line-height:23.4px;">gdz.by</div>
<div class="wm" style="left:873.2px;top:163.4px;">gdz.by</div>
<div class="wm" style="left:716.8px;top:395.6px;">gdz.by</div>
<div class="wm" style="left:200.9px;top:463.5px;">gdz.by</div>
<div class="wm" style="left:1445px;top:731.5px;">gdz.by</div>
<div class="wm" style="left:1136.8px;top:847.6px;">gdz.by</div>
<div class="wm" style="left:364.6px;top:911.6px;">gdz.by</div>
<div class="wm" style="left:1381.1px;top:967.5px;">gdz.by</div>
<div class="wm" style="left:92.9px;top:1043.4px;">gdz.by</div>
<div class="wm" style="left:545px;top:1203.5px;">gdz.by</div>
<div class="wm" style="left:1016.8px;top:1251.3px;">gdz.by</div>

<div class="a" style="left:640px;top:1322px;font-size:29.3px;line-height:29.3px;color:#4b1c8c;white-space:pre;">gdz by  //  гдз бай  //  гдз by</div>
</body></html>
